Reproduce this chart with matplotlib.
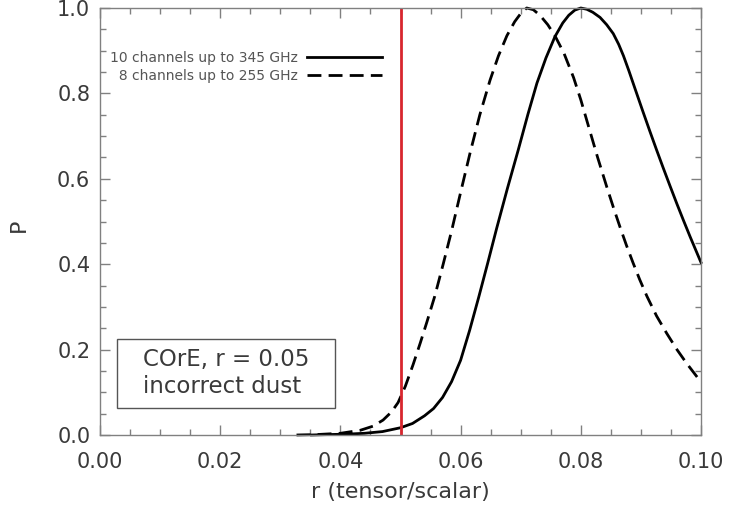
import matplotlib
matplotlib.use("Agg")
import matplotlib.pyplot as plt
from matplotlib.patches import Rectangle
from matplotlib.ticker import MultipleLocator

# ---- data ----
r_solid = [0.0352, 0.0380, 0.0410, 0.0440, 0.0470, 0.0500, 0.0520, 0.0540,
           0.0555, 0.0570, 0.0585, 0.0600, 0.0615, 0.0630, 0.0645, 0.0660,
           0.0678, 0.0696, 0.0712, 0.0727, 0.0742, 0.0757, 0.0770, 0.0780,
           0.0790, 0.0800, 0.0810, 0.0820, 0.0832, 0.0843, 0.0854, 0.0863,
           0.0871, 0.0880, 0.0890, 0.0903, 0.0915, 0.0926, 0.0937, 0.0948,
           0.0960, 0.0971, 0.0982, 0.0991, 0.1000]
p_solid = [0.000, 0.001, 0.002, 0.004, 0.008, 0.017, 0.027, 0.045,
           0.062, 0.088, 0.125, 0.175, 0.245, 0.322, 0.402, 0.484,
           0.578, 0.668, 0.751, 0.824, 0.883, 0.933, 0.965, 0.983,
           0.995, 1.000, 0.997, 0.990, 0.978, 0.961, 0.940, 0.915,
           0.888, 0.853, 0.812, 0.759, 0.711, 0.668, 0.626, 0.585,
           0.541, 0.502, 0.464, 0.434, 0.404]

r_dash = [0.0327, 0.0360, 0.0400, 0.0433, 0.0455, 0.0471, 0.0485, 0.0496,
          0.0508, 0.0521, 0.0533, 0.0544, 0.0557, 0.0571, 0.0585, 0.0600,
          0.0616, 0.0632, 0.0649, 0.0663, 0.0677, 0.0690, 0.0700, 0.0710,
          0.0721, 0.0732, 0.0745, 0.0757, 0.0772, 0.0788, 0.0800, 0.0812,
          0.0828, 0.0843, 0.0854, 0.0865, 0.0876, 0.0887, 0.0898, 0.0910,
          0.0926, 0.0943, 0.0960, 0.0976, 0.0988, 0.1000]
p_dash = [0.000, 0.001, 0.004, 0.011, 0.021, 0.035, 0.054, 0.076,
          0.114, 0.165, 0.216, 0.265, 0.325, 0.400, 0.478, 0.568,
          0.662, 0.750, 0.831, 0.888, 0.935, 0.968, 0.987, 1.000,
          0.996, 0.983, 0.961, 0.935, 0.894, 0.837, 0.785, 0.727,
          0.650, 0.582, 0.534, 0.488, 0.444, 0.403, 0.364, 0.325,
          0.279, 0.238, 0.200, 0.168, 0.146, 0.124]

label_solid = "10 channels up to 345 GHz"
label_dash = "  8 channels up to 255 GHz"
r_input = 0.05
box_text = "COrE, r = 0.05\nincorrect dust"

x_ticks = [0.00, 0.02, 0.04, 0.06, 0.08, 0.10]
x_ticklabels = ["0.00", "0.02", "0.04", "0.06", "0.08", "0.10"]
y_ticks = [0.0, 0.2, 0.4, 0.6, 0.8, 1.0]
y_ticklabels = ["0.0", "0.2", "0.4", "0.6", "0.8", "1.0"]

# ---- figure ----
txt = "#3a3a3a"
axc = "#808080"
fig = plt.figure(figsize=(7.29, 5.08), dpi=100)
ax = fig.add_axes([100/729, 73/508, 601/729, 427/508])

ax.plot(r_solid, p_solid, color="black", lw=2.0, clip_on=False,
        label=label_solid, solid_joinstyle="round")
ax.plot(r_dash, p_dash, color="black", lw=2.0, dashes=(5, 2.6), clip_on=False,
        label=label_dash)
ax.axvline(r_input, color="#d8262e", lw=2.0)

ax.set_xlim(0, 0.1)
ax.set_ylim(0, 1.0)
ax.set_xticks(x_ticks)
ax.set_xticklabels(x_ticklabels)
ax.set_yticks(y_ticks)
ax.set_yticklabels(y_ticklabels)
ax.xaxis.set_minor_locator(MultipleLocator(0.005))
ax.yaxis.set_minor_locator(MultipleLocator(0.05))

for s in ax.spines.values():
    s.set_color(axc)
    s.set_linewidth(1.0)

ax.tick_params(which="both", direction="in", top=True, right=True,
               color=axc, width=1.0, labelcolor=txt, labelsize=15)
ax.tick_params(which="major", length=7.5)
ax.tick_params(which="minor", length=4)
ax.tick_params(axis="x", which="major", pad=12)
ax.tick_params(axis="y", which="major", pad=7)

ax.set_xlabel("r (tensor/scalar)", fontsize=16, color=txt)
ax.xaxis.set_label_coords(0.5, -0.11)
ax.set_ylabel("P", fontsize=16, color=txt)
ax.yaxis.set_label_coords(-0.118, 0.49)

leg = ax.legend(loc="upper left", bbox_to_anchor=(0.016, 0.9),
                frameon=False, markerfirst=False, fontsize=10,
                handlelength=5.4, handletextpad=0.7, labelspacing=0.3,
                borderpad=0, borderaxespad=0)
for t in leg.get_texts():
    t.set_color("#555555")

ax.add_patch(Rectangle((0.0283, 0.0632), 0.3627, 0.1616, transform=ax.transAxes,
                       fill=False, edgecolor="#555555", lw=1.0))
ax.text(0.0715, 0.145, box_text, transform=ax.transAxes, fontsize=16.5,
        color=txt, va="center", ha="left", linespacing=1.2)

fig.savefig("out.png", dpi=100)
